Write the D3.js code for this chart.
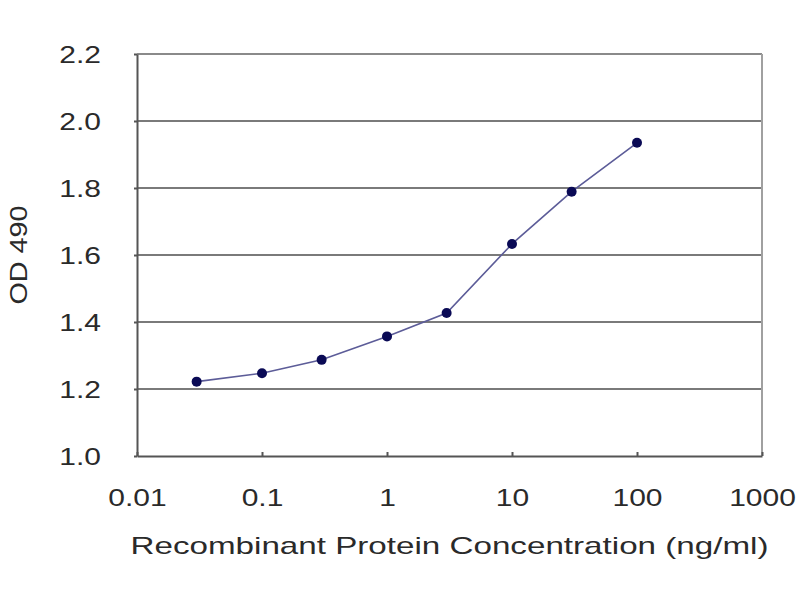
<!DOCTYPE html>
<html>
<head>
<meta charset="utf-8">
<script src="https://cdn.jsdelivr.net/npm/d3@7/dist/d3.min.js"></script>
<style>
  html, body { margin: 0; padding: 0; background: #ffffff; }
  svg { display: block; }
  text { font-family: "Liberation Sans", Arial, sans-serif; }
</style>
</head>
<body>
<script>
// ---- data ----
const concentrations = [0.03, 0.1, 0.3, 1, 3, 10, 30, 100];
const odValues = [1.222, 1.247, 1.287, 1.357, 1.427, 1.633, 1.789, 1.935];
const xTickValues = [0.01, 0.1, 1, 10, 100, 1000];
const xTickLabels = ["0.01", "0.1", "1", "10", "100", "1000"];
const yTickValues = [1.0, 1.2, 1.4, 1.6, 1.8, 2.0, 2.2];
const yTickLabels = ["1.0", "1.2", "1.4", "1.6", "1.8", "2.0", "2.2"];
const xTitle = "Recombinant Protein Concentration (ng/ml)";
const yTitle = "OD 490";

// ---- layout ----
const W = 800, H = 600;
const L = 137, R = 762, T = 54, B = 456;
const SX = 1.25; // horizontal text stretch
const TEXT_COLOR = "#2a2a2a";

const svg = d3.select("body").append("svg").attr("width", W).attr("height", H);
svg.append("rect").attr("width", W).attr("height", H).attr("fill", "#ffffff");

const x = d3.scaleLog().domain([0.01, 1000]).range([L, R]);
const y = d3.scaleLinear().domain([1.0, 2.2]).range([B, T]);

// gridlines
svg.append("g").selectAll("line")
  .data(yTickValues.filter(d => d > 1.0 && d < 2.2))
  .join("line")
  .attr("x1", L).attr("x2", R)
  .attr("y1", d => y(d)).attr("y2", d => y(d))
  .attr("stroke", "#7a7a7a").attr("stroke-width", 2);

// plot border (top, right)
svg.append("line").attr("x1", L).attr("x2", R).attr("y1", y(2.2)).attr("y2", y(2.2))
  .attr("stroke", "#8a8a8a").attr("stroke-width", 2);
svg.append("line").attr("x1", R).attr("x2", R).attr("y1", T).attr("y2", B)
  .attr("stroke", "#a0a0a0").attr("stroke-width", 2);

// y axis
const yAxis = svg.append("g").attr("transform", `translate(${L},0)`)
  .call(d3.axisLeft(y).tickValues(yTickValues)
    .tickFormat((d, i) => yTickLabels[i]).tickSizeInner(3).tickSizeOuter(0));
yAxis.select(".domain").attr("stroke", "#555").attr("stroke-width", 2);
yAxis.selectAll(".tick line").attr("stroke", "#555").attr("stroke-width", 2);
yAxis.selectAll(".tick text")
  .attr("font-size", 24).attr("fill", TEXT_COLOR).attr("font-family", "Liberation Sans, Arial, sans-serif")
  .attr("text-anchor", "end")
  .attr("transform", `scale(${SX},1)`)
  .attr("x", -36 / SX).attr("dy", "0.36em");

// x axis
const xAxis = svg.append("g").attr("transform", `translate(0,${B})`)
  .call(d3.axisBottom(x).tickValues(xTickValues)
    .tickFormat((d, i) => xTickLabels[i]).tickSizeInner(-4).tickSizeOuter(0));
xAxis.select(".domain").attr("stroke", "#555").attr("stroke-width", 2);
xAxis.selectAll(".tick line").attr("stroke", "#555").attr("stroke-width", 2);
xAxis.selectAll(".tick text")
  .attr("font-size", 24).attr("fill", TEXT_COLOR).attr("font-family", "Liberation Sans, Arial, sans-serif")
  .attr("text-anchor", "middle")
  .attr("transform", `scale(${SX},1)`)
  .attr("x", 0).attr("y", 50).attr("dy", 0);

// line
const pts = concentrations.map((c, i) => [c, odValues[i]]);
svg.append("path")
  .datum(pts)
  .attr("fill", "none")
  .attr("stroke", "#5c5c98")
  .attr("stroke-width", 1.6)
  .attr("d", d3.line().x(d => x(d[0])).y(d => y(d[1])).curve(d3.curveLinear));

// points
svg.append("g").selectAll("circle")
  .data(pts).join("circle")
  .attr("cx", d => x(d[0])).attr("cy", d => y(d[1]))
  .attr("r", 5).attr("fill", "#0a0a55");

// titles
svg.append("text")
  .attr("x", (L + R) / 2).attr("y", 554)
  .attr("text-anchor", "middle").attr("font-size", 24).attr("fill", TEXT_COLOR)
  .attr("textLength", 638).attr("lengthAdjust", "spacingAndGlyphs")
  .text(xTitle);

svg.append("text")
  .attr("transform", `translate(27,${(T + B) / 2}) rotate(-90)`)
  .attr("text-anchor", "middle").attr("font-size", 24).attr("fill", TEXT_COLOR)
  .attr("textLength", 99).attr("lengthAdjust", "spacingAndGlyphs")
  .text(yTitle);
</script>
</body>
</html>
